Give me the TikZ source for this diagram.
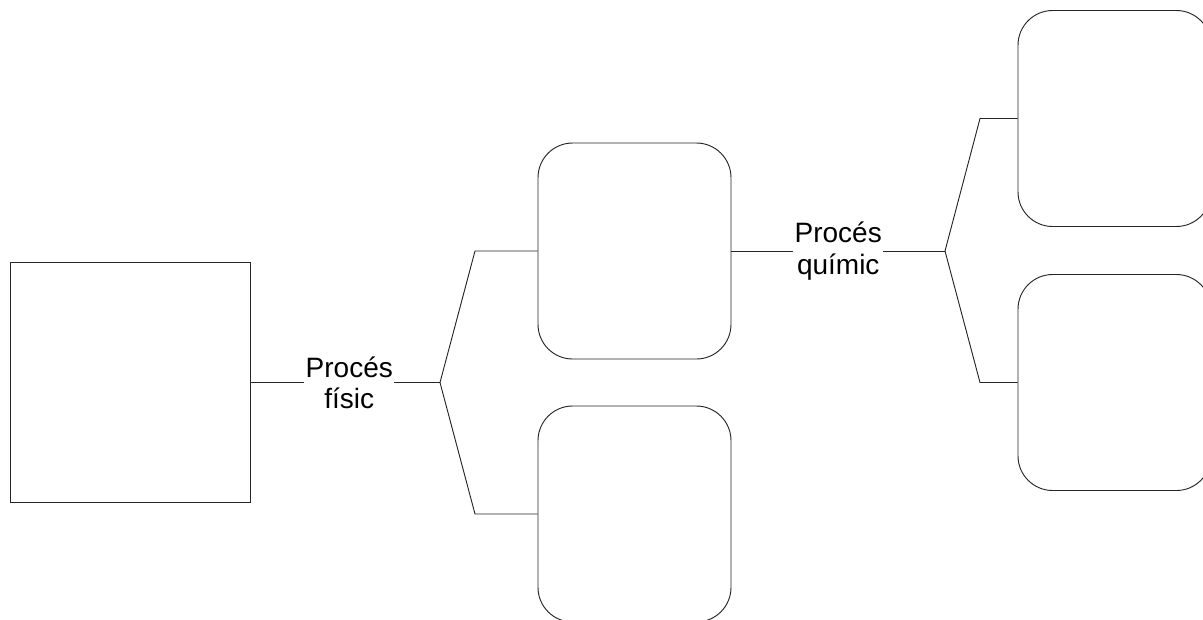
\documentclass[tikz,border=0pt]{standalone}
\usepackage{fontspec}
\setmainfont{Liberation Sans}
\begin{document}
\begin{tikzpicture}[x=0.75pt,y=-0.75pt,
  ln/.style={draw=black!85,line width=0.7pt},
  sqbox/.style={ln,rectangle,minimum width=180pt,minimum height=180pt,inner sep=0pt},
  rbox/.style={ln,rectangle,rounded corners=26pt,minimum width=144.75pt,minimum height=162pt,inner sep=0pt},
  lbl/.style={fill=white,align=center,font=\fontsize{21}{23.5}\selectfont,inner sep=1pt}]
\useasboundingbox (0,0) rectangle (1203,619);
\begin{scope}
\clip (0,0) rectangle (1203,619);
\node[sqbox] (sq) at (130.5,382.5) {};
\node[rbox] (b1) at (634.5,251) {};
\node[rbox] (b2) at (634.5,514) {};
\node[rbox] (b3) at (1114.5,118.5) {};
\node[rbox] (b4) at (1114.5,382.5) {};
\coordinate (j1) at (440,382.5);
\coordinate (k1) at (475,251);
\coordinate (k2) at (475,514);
\coordinate (j2) at (945,251);
\coordinate (k3) at (980,118.5);
\coordinate (k4) at (980,382.5);
\draw[ln] (sq.east) -- node[lbl,pos=0.52] {Procés\\físic} (j1);
\draw[ln] (j1) -- (k1) -- (b1.west);
\draw[ln] (j1) -- (k2) -- (b2.west);
\draw[ln] (b1.east) -- node[lbl,pos=0.5] {Procés\\químic} (j2);
\draw[ln] (j2) -- (k3) -- (b3.west);
\draw[ln] (j2) -- (k4) -- (b4.west);
\end{scope}
\end{tikzpicture}
\end{document}
